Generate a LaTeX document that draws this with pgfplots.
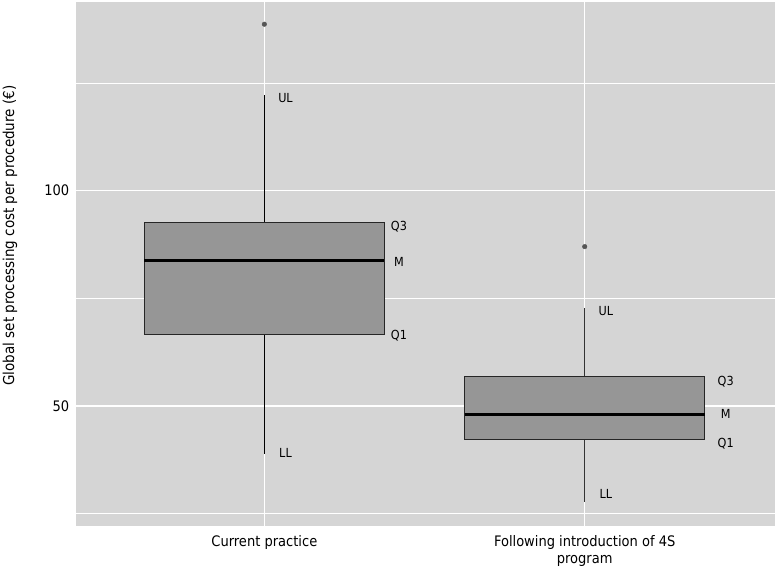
\documentclass[border=0pt]{standalone}
\usepackage{pgfplots}
\pgfplotsset{compat=1.18}
\usepackage{fontspec}
\setmainfont{DejaVu Sans Condensed}
\definecolor{panelbg}{RGB}{213,213,213}
\definecolor{boxfill}{RGB}{150,150,150}
\definecolor{outl}{RGB}{85,85,85}
\newcommand{\tkf}{\fontsize{14.5}{16.5}\selectfont}
\newcommand{\lbf}{\fontsize{12.5}{14}\selectfont}
\begin{document}
\begin{tikzpicture}[lbl/.style={font=\lbf, inner sep=0pt, text depth=0pt, anchor=center}]
\begin{axis}[
  at={(0,0)}, anchor=south west,
  scale only axis, width=699pt, height=523.7pt,
  xmin=0.412, xmax=2.594, ymin=22.2, ymax=143.8,
  axis background/.style={fill=panelbg},
  axis line style={draw=none},
  xtick={1,2},
  xticklabels={Current practice,{Following introduction of 4S\\program}},
  xticklabel style={align=center, font=\tkf, inner sep=0pt, yshift=-10pt},
  ytick={50,100}, minor ytick={25,75,125},
  yticklabel style={font=\tkf, inner sep=0pt, xshift=-6.5pt},
  /pgf/number format/assume math mode=true,
  grid=both,
  major grid style={white, line width=1.4pt},
  minor grid style={white, line width=0.8pt},
  major tick length=0pt, minor tick length=0pt,
  tick style={draw=none},
  ylabel={Global set processing cost per procedure (€)},
  ylabel style={font=\fontsize{15}{17}\selectfont, at={(axis description cs:-0.0944,0.554)}, anchor=center},
  clip=false,
]
% whiskers
\addplot[black, line width=1.1pt] coordinates {(1,38.85) (1,66.56)};
\addplot[black, line width=1.1pt] coordinates {(1,92.66) (1,122.22)};
\addplot[black!80, line width=1.1pt] coordinates {(2,27.78) (2,42.17)};
\addplot[black!80, line width=1.1pt] coordinates {(2,56.8) (2,72.83)};
% boxes
\addplot[draw=black!85, fill=boxfill, line width=0.9pt] coordinates
  {(0.625,66.56) (1.375,66.56) (1.375,92.66) (0.625,92.66)} -- cycle;
\addplot[draw=black!85, fill=boxfill, line width=0.9pt] coordinates
  {(1.625,42.17) (2.375,42.17) (2.375,56.8) (1.625,56.8)} -- cycle;
% medians
\addplot[black, line width=2.4pt] coordinates {(0.625,83.74) (1.375,83.74)};
\addplot[black, line width=2.4pt] coordinates {(1.625,47.98) (2.375,47.98)};
% outliers
\addplot[only marks, mark=*, mark size=2.3pt, mark options={fill=outl, draw=outl}]
  coordinates {(1,138.64) (2,87.0)};
\node[lbl] at (axis cs:1.066,121.53) {UL};
\node[lbl] at (axis cs:1.42,91.92) {Q3};
\node[lbl] at (axis cs:1.42,83.44) {M};
\node[lbl] at (axis cs:1.42,66.49) {Q1};
\node[lbl] at (axis cs:1.066,39.1) {LL};
\node[lbl] at (axis cs:2.066,72.06) {UL};
\node[lbl] at (axis cs:2.44,55.81) {Q3};
\node[lbl] at (axis cs:2.44,48.21) {M};
\node[lbl] at (axis cs:2.44,41.52) {Q1};
\node[lbl] at (axis cs:2.066,29.56) {LL};
\end{axis}
\pgfresetboundingbox
\path[use as bounding box] (-76pt,-42.3pt) rectangle (701pt,525.7pt);
\end{tikzpicture}
\end{document}
